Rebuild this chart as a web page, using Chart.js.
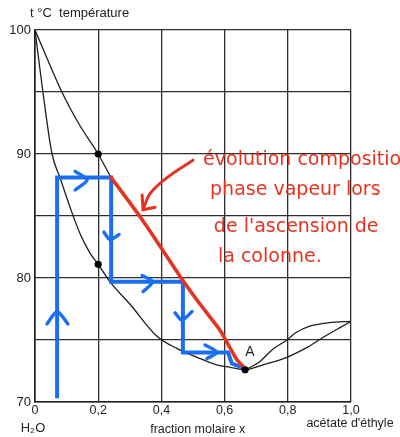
<!DOCTYPE html>
<html>
<head>
<meta charset="utf-8">
<script src="https://cdn.jsdelivr.net/npm/chart.js@4/dist/chart.umd.min.js"></script>
<style>
  html, body { margin: 0; padding: 0; background: #fff; }
  #wrap { width: 400px; height: 437px; }
</style>
</head>
<body>
<div id="wrap"><canvas id="c" width="400" height="437"></canvas></div>
<script>
// ---------- data (mole fraction x of ethyl acetate, temperature °C) ----------
const xTickValues = [0, 0.2, 0.4, 0.6, 0.8, 1.0];
const xTickLabels = ['0', '0,2', '0,4', '0,6', '0,8', '1,0'];
const yTickLabels = [70, 80, 90, 100];

// boiling (liquid) curve
const liquidX = [0, 0.025, 0.054, 0.079, 0.111, 0.142, 0.174, 0.2, 0.24, 0.30, 0.386, 0.45, 0.513, 0.575, 0.617, 0.665, 0.722, 0.797, 0.861, 0.911, 0.965, 1.0];
const liquidT = [100, 95, 90, 88.1, 85.7, 83.6, 82.0, 81.1, 79.6, 77.9, 75.3, 74.3, 73.6, 73.0, 72.8, 72.6, 73.0, 73.6, 74.4, 75.2, 76.0, 76.5];

// dew (vapour) curve, left branch and right branch of azeotrope A
const vaporLeftX = [0, 0.085, 0.142, 0.2, 0.241, 0.342, 0.468, 0.522, 0.585, 0.639, 0.665];
const vaporLeftT = [100, 95, 92.3, 90, 88.1, 84.6, 79.8, 77.9, 75.8, 73.4, 72.6];
const vaporRightX = [0.665, 0.709, 0.750, 0.797, 0.826, 0.867, 0.930, 1.0];
const vaporRightT = [72.6, 73.2, 74.2, 75.0, 75.6, 76.1, 76.4, 76.5];

// red hand-drawn line: vapour composition along the column
const redX = [0.241, 0.342, 0.468, 0.522, 0.585, 0.639, 0.665];
const redT = [88.1, 84.6, 79.8, 77.9, 75.8, 73.4, 72.7];

// red pointing arrow
const redArrowX = [0.500, 0.418, 0.364, 0.342];
const redArrowT = [89.5, 88.1, 86.8, 85.5];
const redHeadX = [0.339, 0.342, 0.380];
const redHeadT = [86.7, 85.5, 85.7];

// blue staircase (successive equilibria)
const stairX = [0.07, 0.07, 0.241, 0.241, 0.468, 0.468, 0.611, 0.623, 0.66];
const stairT = [70.3, 88.1, 88.1, 79.7, 79.7, 74.0, 74.0, 73.1, 72.75];

// blue chevrons on the staircase
const chevronsX = [
  [0.038, 0.07, 0.104],
  [0.127, 0.165, 0.127],
  [0.218, 0.237, 0.266],
  [0.339, 0.373, 0.342],
  [0.443, 0.465, 0.497],
  [0.538, 0.576, 0.544]
];
const chevronsT = [
  [76.3, 77.3, 76.3],
  [88.6, 87.9, 87.1],
  [83.7, 83.1, 83.5],
  [80.2, 79.7, 78.9],
  [77.2, 76.6, 77.3],
  [74.6, 74.0, 73.5]
];

// marked points
const dotX = [0.2, 0.2, 0.665];
const dotT = [90, 81.1, 72.6];

// texts
const handText = ['évolution composition', 'phase vapeur lors', "de l'ascension de", 'la colonne.'];

// ---------- helpers ----------
const pts = (xs, ys) => xs.map((x, i) => ({ x: x, y: ys[i] }));
const BLUE = '#1a6ff0';
const RED = '#e63320';
const INK = '#1e1e1e';

const datasets = [
  { data: pts(dotX, dotT), showLine: false, pointRadius: 3.6, pointBackgroundColor: '#000', pointBorderWidth: 0, order: 0 },
  { data: pts(redHeadX, redHeadT), showLine: true, borderColor: RED, borderWidth: 3, pointRadius: 0, tension: 0, borderCapStyle: 'round', borderJoinStyle: 'round', order: 1 },
  { data: pts(redArrowX, redArrowT), showLine: true, borderColor: RED, borderWidth: 3, pointRadius: 0, tension: 0.4, borderCapStyle: 'round', order: 1 },
  { data: pts(redX, redT), showLine: true, borderColor: RED, borderWidth: 3.6, pointRadius: 0, tension: 0.2, borderCapStyle: 'round', order: 2 }
];
chevronsX.forEach((cx, i) => {
  datasets.push({ data: pts(cx, chevronsT[i]), showLine: true, borderColor: BLUE, borderWidth: 3.4, pointRadius: 0, tension: 0.25, borderCapStyle: 'round', borderJoinStyle: 'round', order: 3 });
});
datasets.push({ data: pts(stairX, stairT), showLine: true, borderColor: BLUE, borderWidth: 4, pointRadius: 0, tension: 0, borderCapStyle: 'butt', borderJoinStyle: 'miter', order: 4 });
datasets.push({ data: pts(liquidX, liquidT), showLine: true, borderColor: INK, borderWidth: 1.3, pointRadius: 0, cubicInterpolationMode: 'monotone', order: 5 });
datasets.push({ data: pts(vaporLeftX, vaporLeftT), showLine: true, borderColor: INK, borderWidth: 1.3, pointRadius: 0, cubicInterpolationMode: 'monotone', order: 5 });
datasets.push({ data: pts(vaporRightX, vaporRightT), showLine: true, borderColor: INK, borderWidth: 1.3, pointRadius: 0, cubicInterpolationMode: 'monotone', order: 5 });

const textPlugin = {
  id: 'texts',
  afterDatasetsDraw(chart) {
    const ctx = chart.ctx;
    const xs = chart.scales.x, ys = chart.scales.y;
    const a = chart.chartArea;
    ctx.save();
    // axis titles
    ctx.fillStyle = '#222';
    ctx.textBaseline = 'middle';
    ctx.font = '13px "Liberation Sans", Arial, sans-serif';
    ctx.textAlign = 'left';
    ctx.fillText('t °C  température', a.left - 5, a.top - 17);
    ctx.textAlign = 'center';
    ctx.fillText('H₂O', xs.getPixelForValue(0) - 2, a.bottom + 26);
    ctx.font = '12.5px "Liberation Sans", Arial, sans-serif';
    ctx.fillText('fraction molaire x', xs.getPixelForValue(0.515), a.bottom + 28);
    ctx.fillText("acétate d'éthyle", xs.getPixelForValue(1.0) - 1, a.bottom + 22);
    // point label A
    ctx.font = '14px "Liberation Sans", Arial, sans-serif';
    ctx.fillText('A', xs.getPixelForValue(0.68), ys.getPixelForValue(74.0));
    // handwritten red note
    ctx.fillStyle = RED;
    ctx.textAlign = 'left';
    ctx.font = '19px "DejaVu Sans", sans-serif';
    const anchors = [[0.532, 89.5], [0.554, 87.1], [0.566, 84.1], [0.579, 81.7]];
    handText.forEach((t, i) => {
      ctx.fillText(t, xs.getPixelForValue(anchors[i][0]), ys.getPixelForValue(anchors[i][1]));
    });
    ctx.restore();
  }
};

new Chart(document.getElementById('c'), {
  type: 'scatter',
  data: { datasets: datasets },
  options: {
    responsive: false,
    animation: false,
    devicePixelRatio: 1,
    layout: { padding: { top: 30, right: 49, bottom: 0, left: 0 } },
    plugins: { legend: { display: false }, tooltip: { enabled: false }, title: { display: false } },
    scales: {
      x: {
        type: 'linear', min: 0, max: 1,
        afterBuildTicks: s => { s.ticks = xTickValues.map(v => ({ value: v })); },
        afterFit: s => { s.height = 35; },
        ticks: {
          padding: 1, color: '#222', maxRotation: 0, autoSkip: false,
          font: { family: '"Liberation Sans", Arial, sans-serif', size: 12.5 },
          callback: (v) => { const i = xTickValues.findIndex(t => Math.abs(t - v) < 1e-6); return i >= 0 ? xTickLabels[i] : ''; }
        },
        grid: { color: '#2e2e2e', lineWidth: 1.3, drawTicks: false },
        border: { display: true, color: '#1e1e1e', width: 1.6 }
      },
      y: {
        type: 'linear', min: 70, max: 100,
        ticks: {
          stepSize: 5, padding: 4, color: '#222',
          font: { family: '"Liberation Sans", Arial, sans-serif', size: 13 },
          callback: (v) => yTickLabels.includes(v) ? String(v) : ''
        },
        afterFit: s => { s.width = 35; },
        grid: { color: '#2e2e2e', lineWidth: 1.3, drawTicks: false },
        border: { display: true, color: '#1e1e1e', width: 1.6 }
      }
    }
  },
  plugins: [textPlugin]
});
</script>
</body>
</html>
